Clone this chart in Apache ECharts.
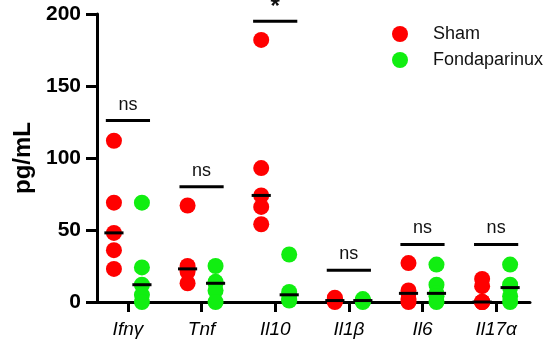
<!DOCTYPE html>
<html>
<head>
<meta charset="utf-8">
<script src="https://cdn.jsdelivr.net/npm/echarts@6/dist/echarts.min.js"></script>
<style>
html,body{margin:0;padding:0;background:#fff;}
#chart{width:550px;height:347px;}
</style>
</head>
<body>
<div id="chart"></div>
<script>
// ---- data ----
const categories = ['Ifnγ', 'Tnf', 'Il10', 'Il1β', 'Il6', 'Il17α'];
const shamValues = [
  [112, 69, 48, 36, 23],
  [67, 25, 23, 21, 13],
  [182, 93, 74, 66, 54],
  [3, 2, 1, 0.5, 0],
  [27, 8, 6, 2, 0],
  [16, 11, 0, 0, 0]
];
const fondaValues = [
  [69, 24, 12, 5, 0],
  [25, 14, 13, 8, 0],
  [33, 7, 5, 2, 1],
  [2, 1, 1, 0.5, 0],
  [26, 12, 6, 4, 0],
  [26, 12, 10, 4, 0]
];
const sigHeights = [126, 80, 195, 22, 40, 40];
const sigLabels = ['ns', 'ns', '*', 'ns', 'ns', 'ns'];
const yTicks = [0, 50, 100, 150, 200];

// ---- helpers ----
const OFFSET = 0.19;
function median(arr) {
  const s = arr.slice().sort((a, b) => a - b);
  const m = Math.floor(s.length / 2);
  return s.length % 2 ? s[m] : (s[m - 1] + s[m]) / 2;
}
function points(values, off) {
  const out = [];
  values.forEach((vals, i) => vals.forEach(v => out.push([i + off, v])));
  return out;
}
const medianData = [];
shamValues.forEach((v, i) => medianData.push([i - OFFSET, median(v)]));
fondaValues.forEach((v, i) => medianData.push([i + OFFSET, median(v)]));
const sigData = sigHeights.map((h, i) => [i, h]);

const FONT = 'Liberation Sans, Arial, sans-serif';
const RED = '#ff0000';
const GREEN = '#11ee11';

const chart = echarts.init(document.getElementById('chart'), null, { renderer: 'canvas' });
chart.setOption({
  animation: false,
  backgroundColor: '#ffffff',
  grid: { left: 97, right: 20, top: 14, bottom: 45, containLabel: false },
  legend: {
    orient: 'vertical',
    left: 387,
    top: 20,
    icon: 'circle',
    itemWidth: 16,
    itemHeight: 16,
    itemGap: 8,
    data: ['Sham', 'Fondaparinux'],
    textStyle: { fontFamily: FONT, fontSize: 18, color: '#111', padding: [0, 0, 0, 20] }
  },
  xAxis: {
    type: 'value',
    min: -0.42,
    max: 5.46,
    splitLine: { show: false },
    axisLine: { show: true, onZero: false, lineStyle: { color: '#000', width: 3 } },
    axisTick: { show: true, customValues: [0, 1, 2, 3, 4, 5], length: 10, lineStyle: { color: '#000', width: 3 } },
    axisLabel: {
      customValues: [0, 1, 2, 3, 4, 5],
      formatter: v => categories[Math.round(v)],
      fontFamily: FONT, fontSize: 19, fontStyle: 'italic', color: '#000', margin: 18
    }
  },
  yAxis: {
    type: 'value',
    min: 0,
    max: 200,
    interval: 50,
    name: 'pg/mL',
    nameLocation: 'middle',
    nameGap: 62,
    nameTextStyle: { fontFamily: FONT, fontSize: 24, fontWeight: 'bold', color: '#000' },
    splitLine: { show: false },
    axisLine: { show: true, onZero: false, lineStyle: { color: '#000', width: 3 } },
    axisTick: { show: true, length: 11, lineStyle: { color: '#000', width: 3 } },
    axisLabel: {
      customValues: yTicks,
      fontFamily: FONT, fontSize: 21, fontWeight: 'bold', color: '#000', margin: 16
    }
  },
  series: [
    {
      name: 'Sham', type: 'scatter', symbol: 'circle', symbolSize: 16,
      itemStyle: { color: RED, opacity: 1 },
      data: points(shamValues, -OFFSET), z: 2
    },
    {
      name: 'Fondaparinux', type: 'scatter', symbol: 'circle', symbolSize: 16,
      itemStyle: { color: GREEN, opacity: 1 },
      data: points(fondaValues, OFFSET), z: 2
    },
    {
      type: 'custom', name: 'median', z: 5,
      data: medianData,
      renderItem: function (params, api) {
        const x = api.value(0), y = api.value(1);
        const a = api.coord([x - 0.13, y]), b = api.coord([x + 0.13, y]);
        return { type: 'line', shape: { x1: a[0], y1: a[1], x2: b[0], y2: b[1] },
                 style: { stroke: '#000', lineWidth: 3 } };
      }
    },
    {
      type: 'custom', name: 'sig', z: 5,
      data: sigData,
      renderItem: function (params, api) {
        const x = api.value(0), y = api.value(1);
        const a = api.coord([x - 0.3, y]), b = api.coord([x + 0.3, y]);
        const lab = sigLabels[params.dataIndex];
        const star = lab === '*';
        return {
          type: 'group',
          children: [
            { type: 'line', shape: { x1: a[0], y1: a[1], x2: b[0], y2: b[1] },
              style: { stroke: '#000', lineWidth: 3 } },
            { type: 'text',
              style: { text: lab, x: (a[0] + b[0]) / 2, y: a[1] - (star ? 2 : 7),
                       align: 'center', verticalAlign: 'bottom',
                       fontFamily: FONT, fontSize: star ? 24 : 18,
                       fontWeight: star ? 'bold' : 'normal', fill: '#111' } }
          ]
        };
      }
    }
  ]
});
</script>
</body>
</html>
